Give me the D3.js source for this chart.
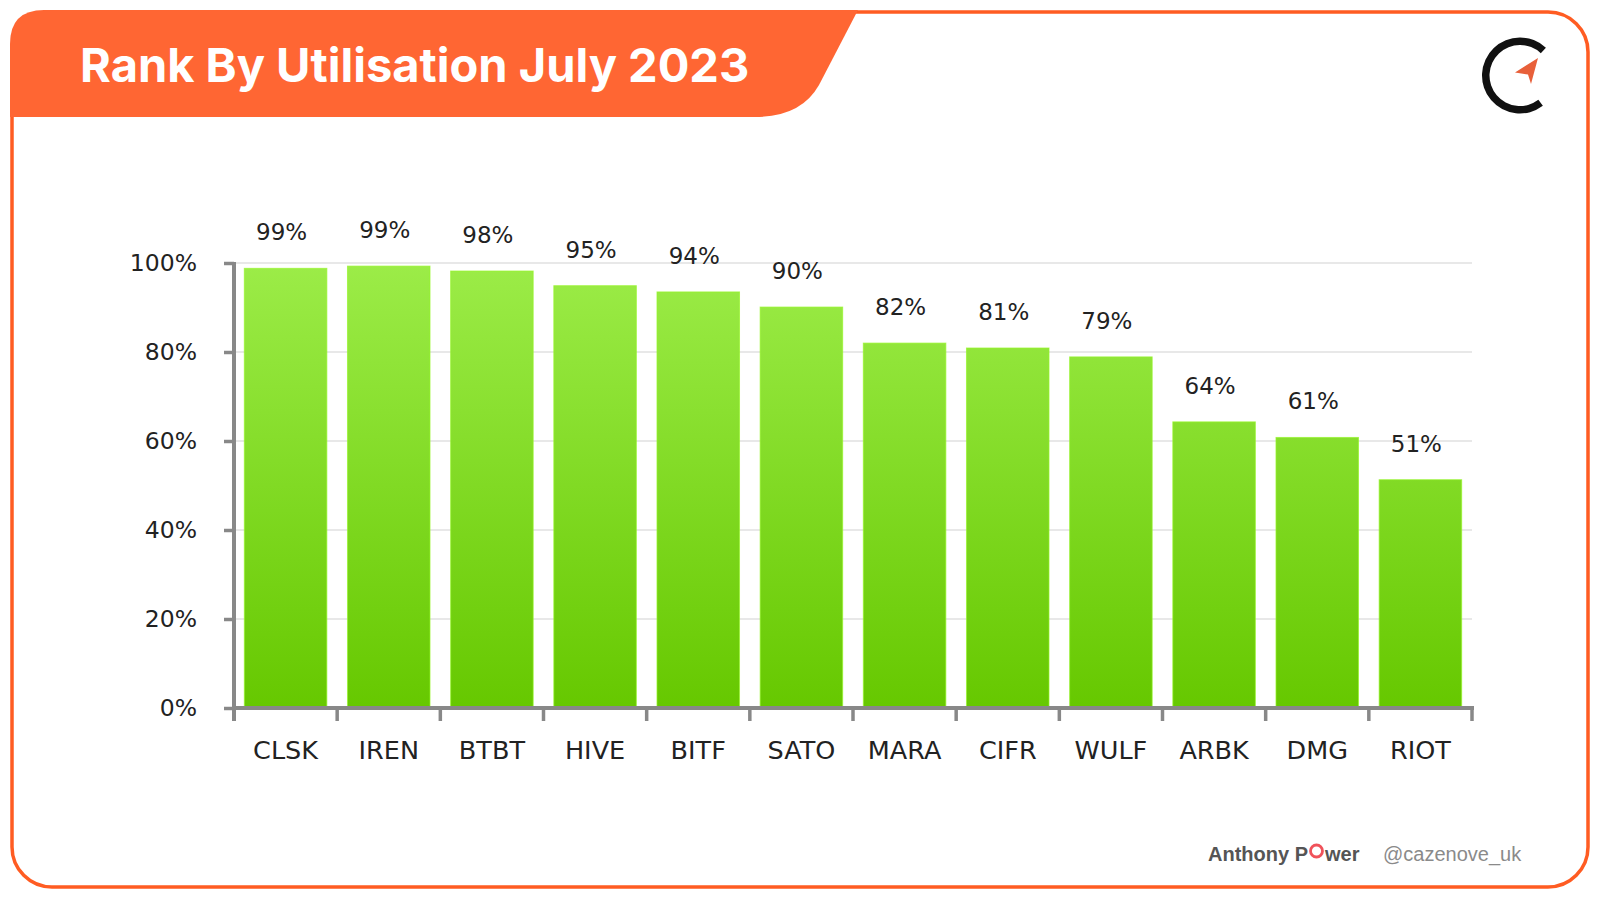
<!DOCTYPE html>
<html>
<head>
<meta charset="utf-8">
<script src="https://cdn.jsdelivr.net/npm/d3@7"></script>
<style>
  html, body { margin: 0; padding: 0; background: #ffffff; }
  svg { display: block; }
</style>
</head>
<body>
<script>
// ---- data ----
const categories = ["CLSK", "IREN", "BTBT", "HIVE", "BITF", "SATO", "MARA", "CIFR", "WULF", "ARBK", "DMG", "RIOT"];
const utilisation = [98.8, 99.3, 98.2, 94.9, 93.5, 90.1, 82.0, 80.9, 78.9, 64.3, 60.8, 51.3];
const yTickValues = [0, 20, 40, 60, 80, 100];
const titleText = "Rank By Utilisation July 2023";
const authorText = ["Anthony P", "wer"];
const handleText = "@cazenove_uk";

const W = 1600, H = 900;
const svg = d3.select("body").append("svg").attr("width", W).attr("height", H);
const defs = svg.append("defs");

// frame
svg.append("rect").attr("x", 12).attr("y", 12).attr("width", 1576).attr("height", 875)
  .attr("rx", 40).attr("ry", 40).attr("fill", "#ffffff")
  .attr("stroke", "#ff5c22").attr("stroke-width", 3.5);

// header
svg.append("path")
  .attr("d", "M10,44 Q10,10 44,10 L858,10 L819,85 Q801,117 755,117 L10,117 Z")
  .attr("fill", "#ff6633");

svg.append("text").attr("x", 80).attr("y", 82)
  .attr("fill", "#ffffff")
  .style("font-family", "Inter, Roboto, sans-serif")
  .style("font-weight", 700).style("font-size", "47px")
  .text(titleText);

// logo
const logo = svg.append("g").attr("transform", "translate(1520,75.5)");
logo.append("path")
  .attr("d", d3.arc().innerRadius(30.5).outerRadius(38)
    .startAngle(143 * Math.PI / 180).endAngle(403 * Math.PI / 180)())
  .attr("fill", "#111111");
logo.append("path")
  .attr("d", "M-5,-3 L18,-17.5 L11,8.5 L8,-1 Z")
  .attr("fill", "#e8603a");

// scales
const x = d3.scaleBand().domain(categories).range([234, 1472]).paddingInner(0.2).paddingOuter(0.1);
const y = d3.scaleLinear().domain([0, 100]).range([708, 263]);

// gradient (shared across the plot)
const grad = defs.append("linearGradient").attr("id", "barGrad")
  .attr("gradientUnits", "userSpaceOnUse")
  .attr("x1", 0).attr("x2", 0).attr("y1", y(100)).attr("y2", y(0));
grad.append("stop").attr("offset", "0%").attr("stop-color", "#9cec48");
grad.append("stop").attr("offset", "100%").attr("stop-color", "#66c800");

// gridlines
svg.append("g").selectAll("line").data(yTickValues.filter(d => d > 0)).join("line")
  .attr("x1", x.range()[0]).attr("x2", x.range()[1])
  .attr("y1", d => y(d)).attr("y2", d => y(d))
  .attr("stroke", "#e8e8e8").attr("stroke-width", 2);

// bars
svg.append("g").selectAll("rect").data(categories).join("rect")
  .attr("x", d => x(d))
  .attr("width", x.bandwidth())
  .attr("y", (d, i) => y(utilisation[i]))
  .attr("height", (d, i) => y(0) - y(utilisation[i]))
  .attr("fill", "url(#barGrad)")
  .attr("stroke", "rgba(150,245,40,0.7)").attr("stroke-width", 1);

// value labels
svg.append("g").selectAll("text").data(categories).join("text")
  .attr("x", d => x(d) + x.bandwidth() / 2 - 4)
  .attr("y", (d, i) => y(utilisation[i]) - 28)
  .attr("text-anchor", "middle")
  .attr("fill", "#222222")
  .style("font-family", "'DejaVu Sans', sans-serif").style("font-size", "23px")
  .text((d, i) => Math.round(utilisation[i]) + "%");

// left axis
const axisColor = "#888888";
const yAxis = svg.append("g").attr("transform", `translate(${x.range()[0]},0)`)
  .call(d3.axisLeft(y).tickValues(yTickValues).tickSize(10).tickSizeOuter(0).tickPadding(27)
    .tickFormat(d => d + "%"));
yAxis.select(".domain").remove();
yAxis.selectAll(".tick line").attr("stroke", axisColor).attr("stroke-width", 3.5);
yAxis.selectAll(".tick text").attr("fill", "#222222")
  .style("font-family", "'DejaVu Sans', sans-serif").style("font-size", "23.5px");
yAxis.append("line").attr("x1", 0).attr("x2", 0).attr("y1", y(100) - 1).attr("y2", y(0) + 13)
  .attr("stroke", axisColor).attr("stroke-width", 4);

// bottom axis
const xAxisG = svg.append("g");
xAxisG.append("line").attr("x1", x.range()[0]).attr("x2", x.range()[1] + 2)
  .attr("y1", y(0)).attr("y2", y(0)).attr("stroke", axisColor).attr("stroke-width", 4);
const gap = (x.step() - x.bandwidth()) / 2;
const boundaries = categories.map(c => x(c) - gap).concat([x(categories[categories.length - 1]) + x.bandwidth() + gap]);
xAxisG.selectAll("line.tk").data(boundaries).join("line").attr("class", "tk")
  .attr("x1", d => d).attr("x2", d => d)
  .attr("y1", y(0)).attr("y2", y(0) + 13)
  .attr("stroke", axisColor).attr("stroke-width", 3.5);
xAxisG.selectAll("text").data(categories).join("text")
  .attr("x", d => x(d) + x.bandwidth() / 2)
  .attr("y", y(0) + 51)
  .attr("text-anchor", "middle")
  .attr("fill", "#222222")
  .style("font-family", "'DejaVu Sans', sans-serif").style("font-size", "25.5px")
  .text(d => d);

// footer
const ft = svg.append("g");
const a1 = ft.append("text").attr("x", 1208).attr("y", 861)
  .attr("fill", "#555555")
  .style("font-family", "'Liberation Sans', Arial, sans-serif").style("font-weight", 700).style("font-size", "20px")
  .text(authorText[0]);
const a1w = a1.node().getComputedTextLength();
ft.append("circle").attr("cx", 1208 + a1w + 8.5).attr("cy", 851).attr("r", 6)
  .attr("fill", "none").attr("stroke", "#f0525a").attr("stroke-width", 2.8);
ft.append("text").attr("x", 1208 + a1w + 17).attr("y", 861)
  .attr("fill", "#555555")
  .style("font-family", "'Liberation Sans', Arial, sans-serif").style("font-weight", 700).style("font-size", "20px")
  .text(authorText[1]);
ft.append("text").attr("x", 1383).attr("y", 861)
  .attr("fill", "#8a8a8a")
  .style("font-family", "'Liberation Sans', Arial, sans-serif").style("font-size", "20px")
  .text(handleText);
</script>
</body>
</html>
